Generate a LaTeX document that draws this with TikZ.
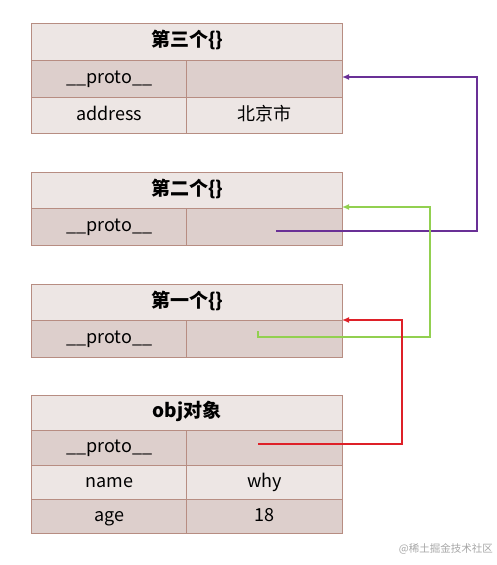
\documentclass[tikz,border=0pt]{standalone}
\usepackage{fontspec}
\setmainfont{Noto Sans CJK SC}
\usetikzlibrary{arrows.meta}
\definecolor{bordc}{RGB}{183,141,130}
\definecolor{lightc}{RGB}{237,230,228}
\definecolor{darkc}{RGB}{221,207,204}
\definecolor{purc}{RGB}{105,48,150}
\definecolor{grnc}{RGB}{146,208,80}
\definecolor{redc}{RGB}{222,32,40}
\tikzset{
  cell/.style={draw=bordc, line width=1.2pt, anchor=north west, inner sep=0pt,
    minimum width=#1, font=\fontsize{18}{20}\selectfont,
    text height=13pt, text depth=4pt},
  lrow/.style={fill=lightc},
  drow/.style={fill=darkc},
  titlecell/.style={font=\fontsize{19}{21}\selectfont\bfseries},
  link/.style={line width=1.6pt, -{Latex[length=7pt,width=6pt]}},
}
\begin{document}
\begin{tikzpicture}[x=1pt,y=-1pt]
\useasboundingbox (0,0) rectangle (497,565);
% ---------- table 3 ----------
\node[cell=311pt, lrow, minimum height=37pt, titlecell] (t3t) at (31,23) {第三个\{\}};
\node[cell=155pt, drow, minimum height=37pt] (t3pk) at (31,60) {\_\_proto\_\_};
\node[cell=156pt, drow, minimum height=37pt] (t3pv) at (186,60) {};
\node[cell=155pt, lrow, minimum height=36pt] (t3ak) at (31,97) {address};
\node[cell=156pt, lrow, minimum height=36pt] (t3av) at (186,97) {北京市};
% ---------- table 2 ----------
\node[cell=311pt, lrow, minimum height=36pt, titlecell] (t2t) at (31,172) {第二个\{\}};
\node[cell=155pt, drow, minimum height=37pt] (t2pk) at (31,208) {\_\_proto\_\_};
\node[cell=156pt, drow, minimum height=37pt] (t2pv) at (186,208) {};
% ---------- table 1 ----------
\node[cell=311pt, lrow, minimum height=36pt, titlecell] (t1t) at (31,284) {第一个\{\}};
\node[cell=155pt, drow, minimum height=37pt] (t1pk) at (31,320) {\_\_proto\_\_};
\node[cell=156pt, drow, minimum height=37pt] (t1pv) at (186,320) {};
% ---------- obj ----------
\node[cell=311pt, lrow, minimum height=35pt, titlecell] (ot) at (31,395) {obj对象};
\node[cell=155pt, drow, minimum height=35pt] (opk) at (31,430) {\_\_proto\_\_};
\node[cell=156pt, drow, minimum height=35pt] (opv) at (186,430) {};
\node[cell=155pt, lrow, minimum height=34pt] (onk) at (31,465) {name};
\node[cell=156pt, lrow, minimum height=34pt] (onv) at (186,465) {why};
\node[cell=155pt, drow, minimum height=34pt] (oak) at (31,499) {age};
\node[cell=156pt, drow, minimum height=34pt] (oav) at (186,499) {18};
% ---------- connectors ----------
\coordinate (ps) at (276,231);
\coordinate (px) at (477,0);
\coordinate (gs0) at (258,331);
\coordinate (gs) at (258,337);
\coordinate (gx) at (430,0);
\coordinate (rs) at (258,444);
\coordinate (rx) at (402,0);
\coordinate (p3) at (342,77);
\coordinate (p2) at (342,207);
\coordinate (p1) at (342,320);
\draw[link, purc] (ps) -- (ps -| px) -- (px |- p3) -- (p3);
\draw[link, grnc] (gs0) -- (gs) -- (gs -| gx) -- (gx |- p2) -- (p2);
\draw[link, redc] (rs) -- (rs -| rx) -- (rx |- p1) -- (p1);
% watermark
\node[anchor=east, text=black!35, font=\fontsize{10.5}{12}\selectfont, inner sep=0pt] (wm) at (493,549) {@稀土掘金技术社区};
\end{tikzpicture}
\end{document}
